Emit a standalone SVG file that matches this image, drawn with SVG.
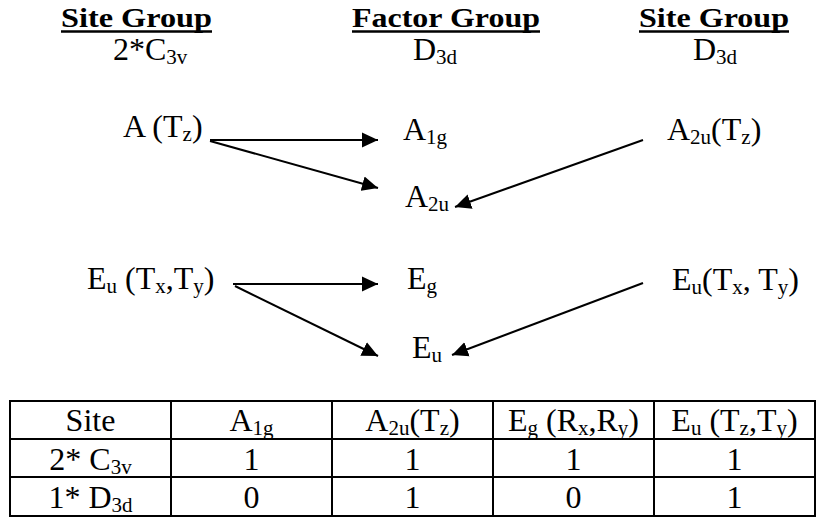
<svg xmlns="http://www.w3.org/2000/svg" width="817" height="518" viewBox="0 0 817 518">
<style>
text{font-family:"Liberation Serif","Times New Roman",serif;font-size:32px;fill:#000}
.h{font-weight:bold;font-size:28px}
.c{text-anchor:middle}
.s{font-size:21px}
.ul{stroke:#000;stroke-width:2.5}
.ar{stroke:#000;stroke-width:2;fill:none;marker-end:url(#ah)}
.tb{stroke:#000;stroke-width:2;fill:none}
</style>
<defs>
<marker id="ah" markerUnits="userSpaceOnUse" markerWidth="18" markerHeight="16" refX="16" refY="8" orient="auto">
<path d="M0,0.5 L16,8 L0,15.5 Z" fill="#000"/>
</marker>
</defs>
<rect width="817" height="518" fill="#fff"/>
<g id="hdr-site-left"><text class="h" x="61" y="27" textLength="151" lengthAdjust="spacingAndGlyphs">Site Group</text><line class="ul" x1="61" y1="31.5" x2="212" y2="31.5"/><text x="113" y="60">2*C<tspan class="s" dy="4">3v</tspan></text></g>
<g id="hdr-factor"><text class="h" x="352" y="27" textLength="188" lengthAdjust="spacingAndGlyphs">Factor Group</text><line class="ul" x1="352" y1="31.5" x2="540" y2="31.5"/><text x="413" y="60">D<tspan class="s" dy="4">3d</tspan></text></g>
<g id="hdr-site-right"><text class="h" x="639" y="27" textLength="150" lengthAdjust="spacingAndGlyphs">Site Group</text><line class="ul" x1="639" y1="31.5" x2="789" y2="31.5"/><text x="693" y="60">D<tspan class="s" dy="4">3d</tspan></text></g>
<g id="n-a-tz"><text x="123" y="137">A (T<tspan class="s" dy="4">z</tspan><tspan dy="-4">)</tspan></text></g>
<g id="n-a1g"><text x="403" y="140">A<tspan class="s" dy="4">1g</tspan></text></g>
<g id="n-a2u-tz"><text x="667" y="140">A<tspan class="s" dy="4">2u</tspan><tspan dy="-4">(T</tspan><tspan class="s" dy="4">z</tspan><tspan dy="-4">)</tspan></text></g>
<g id="n-a2u"><text x="405" y="207">A<tspan class="s" dy="4">2u</tspan></text></g>
<g id="n-eu-left"><text x="87" y="289">E<tspan class="s" dy="4">u</tspan><tspan dy="-4"> (T</tspan><tspan class="s" dy="4">x</tspan><tspan dy="-4">,T</tspan><tspan class="s" dy="4">y</tspan><tspan dy="-4">)</tspan></text></g>
<g id="n-eg"><text x="407" y="289">E<tspan class="s" dy="4">g</tspan></text></g>
<g id="n-eu"><text x="412" y="358">E<tspan class="s" dy="4">u</tspan></text></g>
<g id="n-eu-right"><text x="672" y="290">E<tspan class="s" dy="4">u</tspan><tspan dy="-4">(T</tspan><tspan class="s" dy="4">x</tspan><tspan dy="-4">, T</tspan><tspan class="s" dy="4">y</tspan><tspan dy="-4">)</tspan></text></g>
<g id="connectors">
<line class="ar" x1="210" y1="140" x2="378" y2="140"/>
<line class="ar" x1="210" y1="141" x2="378" y2="188"/>
<line class="ar" x1="643" y1="140" x2="455" y2="207"/>
<line class="ar" x1="233" y1="284" x2="378" y2="284"/>
<line class="ar" x1="235" y1="286" x2="378" y2="356"/>
<line class="ar" x1="643" y1="283" x2="452" y2="355"/>
</g>
<g id="table">
<rect class="tb" x="10" y="401" width="805" height="115"/>
<path class="tb" d="M10,439H815M10,477H815M171,401V516M332,401V516M493,401V516M654,401V516"/>
<text class="c" x="90.5" y="431">Site</text>
<text class="c" x="251.5" y="431">A<tspan class="s" dy="4">1g</tspan></text>
<text class="c" x="412.5" y="431">A<tspan class="s" dy="4">2u</tspan><tspan dy="-4">(T</tspan><tspan class="s" dy="4">z</tspan><tspan dy="-4">)</tspan></text>
<text class="c" x="573.5" y="431">E<tspan class="s" dy="4">g</tspan><tspan dy="-4"> (R</tspan><tspan class="s" dy="4">x</tspan><tspan dy="-4">,R</tspan><tspan class="s" dy="4">y</tspan><tspan dy="-4">)</tspan></text>
<text class="c" x="734.5" y="431">E<tspan class="s" dy="4">u</tspan><tspan dy="-4"> (T</tspan><tspan class="s" dy="4">z</tspan><tspan dy="-4">,T</tspan><tspan class="s" dy="4">y</tspan><tspan dy="-4">)</tspan></text>
<text class="c" x="90.5" y="470">2* C<tspan class="s" dy="4">3v</tspan></text>
<text class="c" x="251.5" y="470">1</text>
<text class="c" x="412.5" y="470">1</text>
<text class="c" x="573.5" y="470">1</text>
<text class="c" x="734.5" y="470">1</text>
<text class="c" x="90.5" y="508">1* D<tspan class="s" dy="4">3d</tspan></text>
<text class="c" x="251.5" y="508">0</text>
<text class="c" x="412.5" y="508">1</text>
<text class="c" x="573.5" y="508">0</text>
<text class="c" x="734.5" y="508">1</text>
</g>
</svg>
